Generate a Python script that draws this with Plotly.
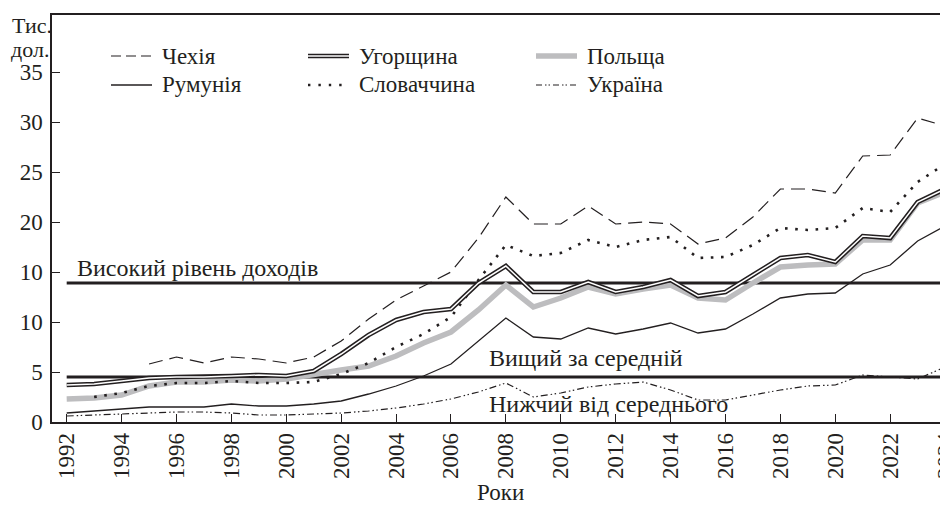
import plotly.graph_objects as go

# ---------------- data (thousand US$ per capita) ----------------
years = list(range(1992, 2025))

czechia = [None, None, None, 5.8, 6.5, 5.9, 6.5, 6.3, 5.9, 6.5, 8.1, 10.3, 12.2, 13.6, 15.0, 18.4,
           22.5, 19.8, 19.8, 21.6, 19.8, 20.0, 19.8, 17.8, 18.4, 20.5, 23.3, 23.3, 22.9, 26.6, 26.7, 30.4, 29.6]
hungary = [3.7, 3.8, 4.1, 4.4, 4.5, 4.5, 4.6, 4.7, 4.6, 5.1, 6.8, 8.7, 10.2, 11.0, 11.3, 13.9,
           15.6, 13.0, 13.0, 14.0, 13.0, 13.5, 14.2, 12.6, 13.0, 14.7, 16.4, 16.7, 16.0, 18.6, 18.4, 22.0, 23.3]
poland = [2.3, 2.4, 2.7, 3.6, 4.0, 4.0, 4.2, 4.1, 4.3, 4.8, 5.2, 5.6, 6.6, 7.9, 9.0, 11.2,
          13.7, 11.5, 12.4, 13.5, 12.8, 13.3, 13.7, 12.4, 12.2, 13.9, 15.5, 15.7, 15.8, 18.2, 18.2, 21.9, 23.0]
romania = [0.9, 1.1, 1.3, 1.5, 1.5, 1.5, 1.8, 1.6, 1.6, 1.8, 2.1, 2.8, 3.6, 4.6, 5.8, 8.1,
           10.4, 8.5, 8.3, 9.4, 8.8, 9.3, 9.9, 8.9, 9.3, 10.8, 12.4, 12.8, 12.9, 14.8, 15.7, 18.1, 19.6]
slovakia = [None, 2.5, 2.9, 3.6, 3.9, 3.9, 4.1, 3.9, 3.9, 4.0, 4.8, 5.9, 7.5, 8.8, 10.5, 14.2,
            17.7, 16.6, 16.9, 18.2, 17.5, 18.2, 18.5, 16.4, 16.5, 17.7, 19.4, 19.2, 19.4, 21.4, 21.0, 24.0, 25.8]
ukraine = [0.6, 0.7, 0.8, 0.9, 1.0, 1.0, 0.9, 0.7, 0.7, 0.8, 0.9, 1.1, 1.4, 1.8, 2.3, 3.0,
           3.9, 2.5, 2.9, 3.5, 3.8, 4.0, 3.2, 2.2, 2.2, 2.7, 3.2, 3.6, 3.7, 4.7, 4.5, 4.3, 5.5]

high_income = 13.9
upper_middle = 4.5

y_tick_vals = [0, 5, 10, 15, 20, 25, 30, 35]
y_tick_text = ["0", "5", "10", "10", "20", "25", "30", "35"]
x_tick_vals = list(range(1992, 2025, 2))

labels_levels = ["Високий рівень доходів", "Вищий за середній", "Нижчий від середнього"]

# ---------------- styling ----------------
FONT = "Liberation Serif"
INK = "#231f20"
GREY = "#bdbdbf"
OFF = 8                      # page body margin
W, H = 948 - OFF, 505 - OFF
ML, MR, MT, MB = 44, 1, 7, 83
PW, PH = W - ML - MR, H - MT - MB
FS = 23


def px(xp):
    return (xp - OFF - ML) / PW


def py(yp):
    return (H - MB - (yp - OFF)) / PH


fig = go.Figure()

# threshold lines
for val in (high_income, upper_middle):
    fig.add_trace(go.Scatter(x=[years[0], years[-1]], y=[val, val], mode="lines",
                             line=dict(color=INK, width=3), showlegend=False, hoverinfo="skip"))

styles = {
    "Польща": dict(color=GREY, width=5.5),
    "Румунія": dict(color=INK, width=1.3),
    "Україна": dict(color=INK, width=1.2, dash="7px,3px,1.5px,2.5px,1.5px,3px"),
    "Словаччина": dict(color=INK, width=2.6, dash="2.6px,7.6px"),
    "Чехія": dict(color=INK, width=1.2, dash="14px,7px"),
}
series = {"Польща": poland, "Румунія": romania, "Україна": ukraine,
          "Словаччина": slovakia, "Чехія": czechia}
for nm in ["Польща", "Румунія", "Україна", "Словаччина", "Чехія"]:
    fig.add_trace(go.Scatter(x=years, y=series[nm], mode="lines", name=nm,
                             line=styles[nm], showlegend=False))
# Hungary: double line
fig.add_trace(go.Scatter(x=years, y=hungary, mode="lines", name="Угорщина",
                         line=dict(color=INK, width=4.6), showlegend=False))
fig.add_trace(go.Scatter(x=years, y=hungary, mode="lines", name="Угорщина",
                         line=dict(color="white", width=1.5), showlegend=False, hoverinfo="skip"))

# ---------------- manual legend ----------------
shapes = []
annotations = []
legend_layout = [
    ("Чехія", 111, 56), ("Угорщина", 308, 56), ("Польща", 536, 56),
    ("Румунія", 111, 85), ("Словаччина", 308, 85), ("Україна", 536, 85),
]
legend_styles = {
    "Чехія": [dict(color=INK, width=1.2, dash="10px,5px")],
    "Румунія": [dict(color=INK, width=1.3)],
    "Угорщина": [dict(color=INK, width=4.6), dict(color="white", width=1.5)],
    "Словаччина": [dict(color=INK, width=2.4, dash="2.4px,8px")],
    "Польща": [dict(color=GREY, width=5.5)],
    "Україна": [dict(color=INK, width=1.2, dash="6px,3px,1.5px,2px,1.5px,3px")],
}
for nm, x0, y0 in legend_layout:
    for st in legend_styles[nm]:
        shapes.append(dict(type="line", xref="paper", yref="paper",
                           x0=px(x0), x1=px(x0 + 41), y0=py(y0), y1=py(y0), line=st))
    annotations.append(dict(xref="paper", yref="paper", x=px(x0 + 49), y=py(y0),
                            xanchor="left", yanchor="middle", text=nm, showarrow=False,
                            font=dict(family=FONT, size=FS, color=INK)))

# income level labels
annotations += [
    dict(x=1992.3, y=high_income + 1.5, text=labels_levels[0], xanchor="left", yanchor="middle",
         showarrow=False, font=dict(family=FONT, size=24, color=INK)),
    dict(x=2007.3, y=upper_middle + 1.9, text=labels_levels[1], xanchor="left", yanchor="middle",
         showarrow=False, font=dict(family=FONT, size=24, color=INK)),
    dict(x=2007.3, y=1.8, text=labels_levels[2], xanchor="left", yanchor="middle",
         showarrow=False, font=dict(family=FONT, size=24, color=INK)),
]
# axis titles
annotations += [
    dict(xref="paper", yref="paper", x=px(10), y=py(26), text="Тис.", xanchor="left", yanchor="middle",
         showarrow=False, font=dict(family=FONT, size=22, color=INK)),
    dict(xref="paper", yref="paper", x=px(9), y=py(50), text="дол.", xanchor="left", yanchor="middle",
         showarrow=False, font=dict(family=FONT, size=22, color=INK)),
    dict(xref="paper", yref="paper", x=px(500), y=py(492), text="Роки", xanchor="center", yanchor="middle",
         showarrow=False, font=dict(family=FONT, size=FS, color=INK)),
]

fig.update_layout(
    width=W, height=H, margin=dict(l=ML, r=MR, t=MT, b=MB, autoexpand=False),
    paper_bgcolor="white", plot_bgcolor="white",
    showlegend=False, shapes=shapes, annotations=annotations,
    font=dict(family=FONT, size=FS, color=INK),
    xaxis=dict(range=[1991.465, 2024.07], tickvals=x_tick_vals, tickangle=-90,
               ticks="inside", ticklen=8, tickwidth=1.2, tickcolor=INK,
               showline=True, linecolor=INK, linewidth=1.5, mirror=True,
               showgrid=False, zeroline=False, ticklabelstandoff=0,
               ticklabeloverflow="allow", automargin=False,
               tickfont=dict(family=FONT, size=FS, color=INK)),
    yaxis=dict(range=[0, 40.7], tickvals=y_tick_vals, ticktext=y_tick_text,
               ticks="inside", ticklen=8, tickwidth=1.2, tickcolor=INK,
               showline=True, linecolor=INK, linewidth=1.5, mirror=True,
               showgrid=False, zeroline=False, ticklabelstandoff=3, automargin=False,
               tickfont=dict(family=FONT, size=FS, color=INK)),
)

fig.write_html("out.html")
